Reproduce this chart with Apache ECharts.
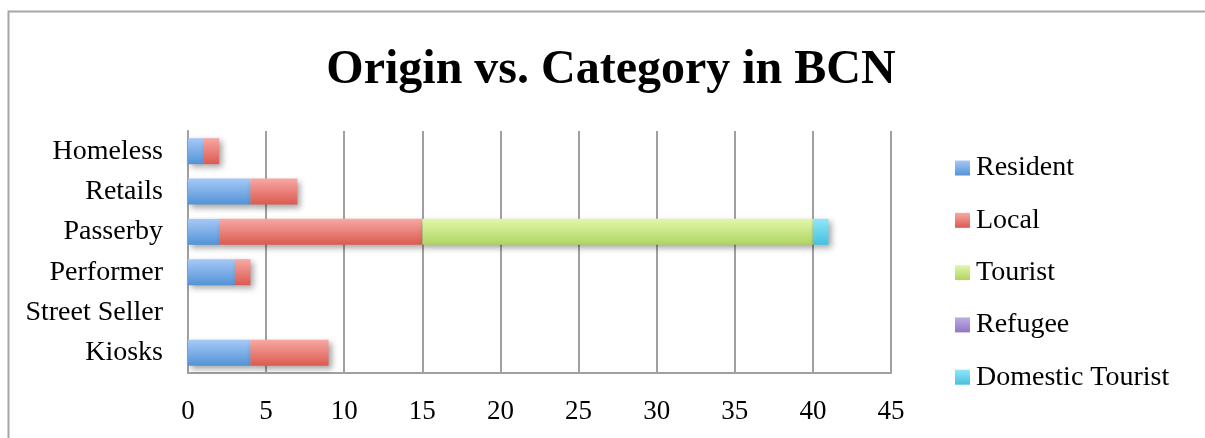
<!DOCTYPE html>
<html>
<head>
<meta charset="utf-8">
<script src="https://cdn.jsdelivr.net/npm/echarts@6/dist/echarts.min.js"></script>
<style>
html,body{margin:0;padding:0;background:#fff;}
#c{width:1205px;height:438px;}
</style>
</head>
<body>
<div id="c"></div>
<script>
var categories = ['Kiosks', 'Street Seller', 'Performer', 'Passerby', 'Retails', 'Homeless'];
var seriesNames = ['Resident', 'Local', 'Tourist', 'Refugee', 'Domestic Tourist'];
var resident = [4, 0, 3, 2, 4, 1];
var local = [5, 0, 1, 13, 3, 1];
var tourist = [0, 0, 0, 25, 0, 0];
var refugee = [0, 0, 0, 0, 0, 0];
var domesticTourist = [0, 0, 0, 1, 0, 0];
var xTicks = [0, 5, 10, 15, 20, 25, 30, 35, 40, 45];

var values = [resident, local, tourist, refugee, domesticTourist];
var gradients = [
  ['#a6c9f7', '#5393d6'],
  ['#f8a8a4', '#db5a50'],
  ['#e1f8aa', '#b0d363'],
  ['#bfade4', '#9276c2'],
  ['#90e7fa', '#47c0dd']
];
var serif = '"Liberation Serif", "DejaVu Serif", serif';

function grad(c) {
  return new echarts.graphic.LinearGradient(0, 0, 0, 1, [
    { offset: 0, color: c[0] },
    { offset: 1, color: c[1] }
  ]);
}

var series = seriesNames.map(function (name, i) {
  return {
    name: name,
    type: 'bar',
    stack: 'total',
    barWidth: 26,
    data: values[i],
    itemStyle: {
      color: grad(gradients[i]),
      shadowBlur: 6,
      shadowColor: 'rgba(0,0,0,0.35)',
      shadowOffsetX: 3,
      shadowOffsetY: 3
    },
    emphasis: { disabled: true }
  };
});

var chart = echarts.init(document.getElementById('c'), null, { renderer: 'canvas' });
chart.setOption({
  animation: false,
  backgroundColor: '#ffffff',
  graphic: [{
    type: 'rect',
    left: 6, top: 9,
    shape: { x: 0, y: 0, width: 1400, height: 600 },
    style: { fill: 'none', stroke: '#a6a6a6', lineWidth: 2 },
    silent: true
  }],
  title: {
    text: 'Origin vs. Category in BCN',
    left: 606,
    textAlign: 'center',
    top: 42,
    textStyle: { fontFamily: serif, fontWeight: 'bold', fontSize: 48, color: '#000' }
  },
  legend: {
    orient: 'vertical',
    left: 955,
    top: 154,
    padding: 0,
    itemWidth: 15,
    itemHeight: 15,
    itemGap: 24.3,
    icon: 'rect',
    data: seriesNames.map(function (n, i) {
      return { name: n, itemStyle: { color: grad(gradients[i]), shadowBlur: 0, shadowOffsetX: 0, shadowOffsetY: 0 } };
    }),
    textStyle: { fontFamily: serif, fontSize: 28, color: '#000', lineHeight: 26, padding: [0, 0, 0, 1] }
  },
  grid: { left: 188, right: 314, top: 131, bottom: 65, containLabel: false },
  xAxis: {
    type: 'value',
    min: xTicks[0],
    max: xTicks[xTicks.length - 1],
    interval: 5,
    axisLine: { show: true, lineStyle: { color: '#a0a0a0', width: 2 } },
    axisTick: { show: false },
    splitLine: { show: true, lineStyle: { color: '#a0a0a0', width: 2 } },
    axisLabel: { fontFamily: serif, fontSize: 27, color: '#000', margin: 25 }
  },
  yAxis: {
    type: 'category',
    data: categories,
    axisLine: { show: true, lineStyle: { color: '#a0a0a0', width: 2 } },
    axisTick: { show: false },
    axisLabel: { fontFamily: serif, fontSize: 28, color: '#000', margin: 25 }
  },
  series: series
});
</script>
</body>
</html>
